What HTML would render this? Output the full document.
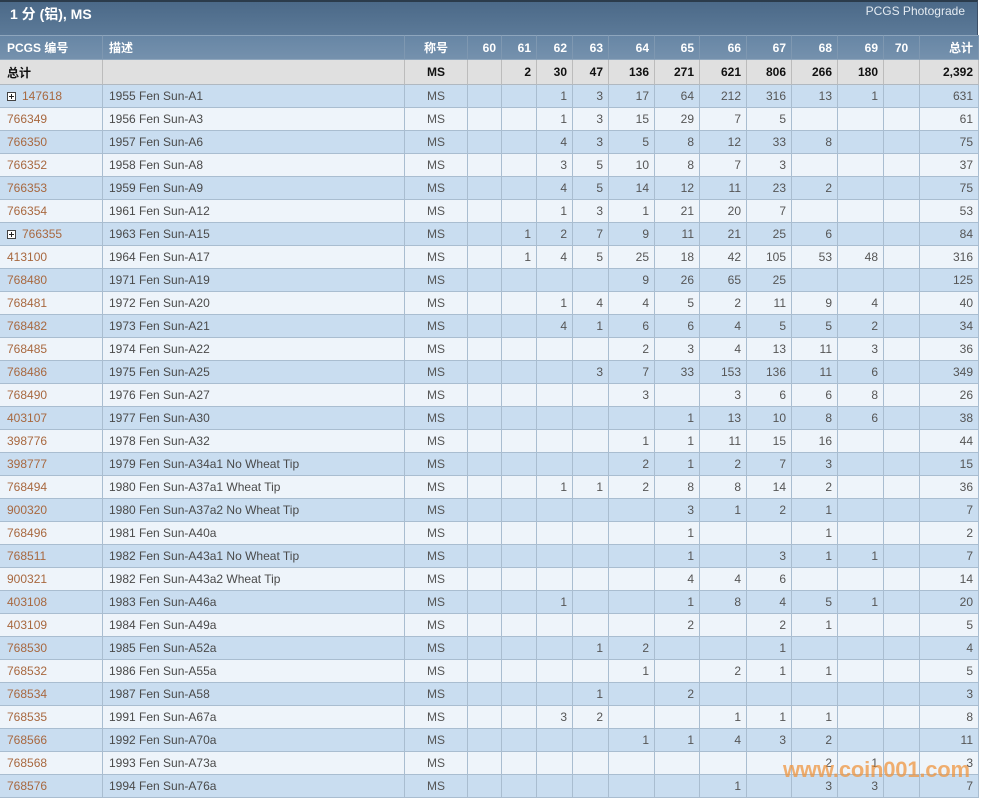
<!DOCTYPE html>
<html><head><meta charset="utf-8">
<style>
html,body{margin:0;padding:0;background:#fff;}
body{width:982px;height:798px;overflow:hidden;position:relative;font-family:"Liberation Sans","Noto Sans CJK SC",sans-serif;}
.title{position:absolute;left:0;top:0;width:978px;height:35px;background:linear-gradient(#4b6988,#5c7a98);border-top:2px solid #2b3b4b;box-sizing:border-box;border-right:1px solid #3c5068;}
.title .t{position:absolute;left:10px;top:2px;color:#fff;font-weight:bold;font-size:14px;}
.title .r{position:absolute;right:12px;top:2px;color:#e4ebf2;font-size:12px;}
table{position:absolute;left:0;top:35px;border-collapse:separate;border-spacing:0;table-layout:fixed;width:979px;font-size:12px;}
td{padding:0 5px 0 0;border-right:1px solid #a9bdd0;border-bottom:1px solid #a9bdd0;height:22px;text-align:right;color:#555;white-space:nowrap;overflow:hidden;box-sizing:border-box;}
tr.h td{background:linear-gradient(#6786a5,#7591ad);color:#fff;font-weight:bold;height:25px;border-right:1px solid #7f98b1;border-bottom:1px solid #8fa6bc;border-top:1px solid #8ea6bd;}
tr.tot td{background:#e0e0e0;color:#111;font-weight:bold;height:25px;border-right:1px solid #bcbcbc;border-bottom:1px solid #b0b8c0;}
tr.b td{background:#c9ddf0;height:23px;}
tr.l td{background:#eef4fa;height:23px;}
td.id{text-align:left;padding-left:7px;color:#a8683f;}
td.d{text-align:left;padding-left:6px;color:#4a4a4a;}
td.g{text-align:center;padding:0;}
tr.h td.id{color:#fff;}
tr.tot td.id{color:#111;}
.pl{display:inline-block;width:7px;height:7px;border:1px solid #444;background:#fff;position:relative;vertical-align:-1px;margin-right:6px;}
.pl:before{content:"";position:absolute;left:1px;top:3px;width:5px;height:1px;background:#222;}
.pl:after{content:"";position:absolute;left:3px;top:1px;width:1px;height:5px;background:#222;}
.wm{position:absolute;left:783px;top:757px;font-size:22px;font-weight:bold;color:rgba(240,145,55,0.72);letter-spacing:-0.2px;}
</style></head><body>
<div class="title"><div class="t">1 分 (铝), MS</div><div class="r">PCGS Photograde</div></div>
<table>
<colgroup><col style="width:103px"><col style="width:302px"><col style="width:63px"><col style="width:34px"><col style="width:35px"><col style="width:36px"><col style="width:36px"><col style="width:46px"><col style="width:45px"><col style="width:47px"><col style="width:45px"><col style="width:46px"><col style="width:46px"><col style="width:36px"><col style="width:59px"></colgroup>
<tr class="h"><td class="id">PCGS 编号</td><td class="d" style="color:#fff">描述</td><td class="g">称号</td><td>60</td><td>61</td><td>62</td><td>63</td><td>64</td><td>65</td><td>66</td><td>67</td><td>68</td><td>69</td><td class="g">70</td><td>总计</td></tr>
<tr class="tot"><td class="id">总计</td><td class="d"></td><td class="g">MS</td><td></td><td>2</td><td>30</td><td>47</td><td>136</td><td>271</td><td>621</td><td>806</td><td>266</td><td>180</td><td></td><td>2,392</td></tr>
<tr class="b"><td class="id"><span class="pl"></span>147618</td><td class="d">1955 Fen Sun-A1</td><td class="g">MS</td><td></td><td></td><td>1</td><td>3</td><td>17</td><td>64</td><td>212</td><td>316</td><td>13</td><td>1</td><td></td><td>631</td></tr>
<tr class="l"><td class="id">766349</td><td class="d">1956 Fen Sun-A3</td><td class="g">MS</td><td></td><td></td><td>1</td><td>3</td><td>15</td><td>29</td><td>7</td><td>5</td><td></td><td></td><td></td><td>61</td></tr>
<tr class="b"><td class="id">766350</td><td class="d">1957 Fen Sun-A6</td><td class="g">MS</td><td></td><td></td><td>4</td><td>3</td><td>5</td><td>8</td><td>12</td><td>33</td><td>8</td><td></td><td></td><td>75</td></tr>
<tr class="l"><td class="id">766352</td><td class="d">1958 Fen Sun-A8</td><td class="g">MS</td><td></td><td></td><td>3</td><td>5</td><td>10</td><td>8</td><td>7</td><td>3</td><td></td><td></td><td></td><td>37</td></tr>
<tr class="b"><td class="id">766353</td><td class="d">1959 Fen Sun-A9</td><td class="g">MS</td><td></td><td></td><td>4</td><td>5</td><td>14</td><td>12</td><td>11</td><td>23</td><td>2</td><td></td><td></td><td>75</td></tr>
<tr class="l"><td class="id">766354</td><td class="d">1961 Fen Sun-A12</td><td class="g">MS</td><td></td><td></td><td>1</td><td>3</td><td>1</td><td>21</td><td>20</td><td>7</td><td></td><td></td><td></td><td>53</td></tr>
<tr class="b"><td class="id"><span class="pl"></span>766355</td><td class="d">1963 Fen Sun-A15</td><td class="g">MS</td><td></td><td>1</td><td>2</td><td>7</td><td>9</td><td>11</td><td>21</td><td>25</td><td>6</td><td></td><td></td><td>84</td></tr>
<tr class="l"><td class="id">413100</td><td class="d">1964 Fen Sun-A17</td><td class="g">MS</td><td></td><td>1</td><td>4</td><td>5</td><td>25</td><td>18</td><td>42</td><td>105</td><td>53</td><td>48</td><td></td><td>316</td></tr>
<tr class="b"><td class="id">768480</td><td class="d">1971 Fen Sun-A19</td><td class="g">MS</td><td></td><td></td><td></td><td></td><td>9</td><td>26</td><td>65</td><td>25</td><td></td><td></td><td></td><td>125</td></tr>
<tr class="l"><td class="id">768481</td><td class="d">1972 Fen Sun-A20</td><td class="g">MS</td><td></td><td></td><td>1</td><td>4</td><td>4</td><td>5</td><td>2</td><td>11</td><td>9</td><td>4</td><td></td><td>40</td></tr>
<tr class="b"><td class="id">768482</td><td class="d">1973 Fen Sun-A21</td><td class="g">MS</td><td></td><td></td><td>4</td><td>1</td><td>6</td><td>6</td><td>4</td><td>5</td><td>5</td><td>2</td><td></td><td>34</td></tr>
<tr class="l"><td class="id">768485</td><td class="d">1974 Fen Sun-A22</td><td class="g">MS</td><td></td><td></td><td></td><td></td><td>2</td><td>3</td><td>4</td><td>13</td><td>11</td><td>3</td><td></td><td>36</td></tr>
<tr class="b"><td class="id">768486</td><td class="d">1975 Fen Sun-A25</td><td class="g">MS</td><td></td><td></td><td></td><td>3</td><td>7</td><td>33</td><td>153</td><td>136</td><td>11</td><td>6</td><td></td><td>349</td></tr>
<tr class="l"><td class="id">768490</td><td class="d">1976 Fen Sun-A27</td><td class="g">MS</td><td></td><td></td><td></td><td></td><td>3</td><td></td><td>3</td><td>6</td><td>6</td><td>8</td><td></td><td>26</td></tr>
<tr class="b"><td class="id">403107</td><td class="d">1977 Fen Sun-A30</td><td class="g">MS</td><td></td><td></td><td></td><td></td><td></td><td>1</td><td>13</td><td>10</td><td>8</td><td>6</td><td></td><td>38</td></tr>
<tr class="l"><td class="id">398776</td><td class="d">1978 Fen Sun-A32</td><td class="g">MS</td><td></td><td></td><td></td><td></td><td>1</td><td>1</td><td>11</td><td>15</td><td>16</td><td></td><td></td><td>44</td></tr>
<tr class="b"><td class="id">398777</td><td class="d">1979 Fen Sun-A34a1 No Wheat Tip</td><td class="g">MS</td><td></td><td></td><td></td><td></td><td>2</td><td>1</td><td>2</td><td>7</td><td>3</td><td></td><td></td><td>15</td></tr>
<tr class="l"><td class="id">768494</td><td class="d">1980 Fen Sun-A37a1 Wheat Tip</td><td class="g">MS</td><td></td><td></td><td>1</td><td>1</td><td>2</td><td>8</td><td>8</td><td>14</td><td>2</td><td></td><td></td><td>36</td></tr>
<tr class="b"><td class="id">900320</td><td class="d">1980 Fen Sun-A37a2 No Wheat Tip</td><td class="g">MS</td><td></td><td></td><td></td><td></td><td></td><td>3</td><td>1</td><td>2</td><td>1</td><td></td><td></td><td>7</td></tr>
<tr class="l"><td class="id">768496</td><td class="d">1981 Fen Sun-A40a</td><td class="g">MS</td><td></td><td></td><td></td><td></td><td></td><td>1</td><td></td><td></td><td>1</td><td></td><td></td><td>2</td></tr>
<tr class="b"><td class="id">768511</td><td class="d">1982 Fen Sun-A43a1 No Wheat Tip</td><td class="g">MS</td><td></td><td></td><td></td><td></td><td></td><td>1</td><td></td><td>3</td><td>1</td><td>1</td><td></td><td>7</td></tr>
<tr class="l"><td class="id">900321</td><td class="d">1982 Fen Sun-A43a2 Wheat Tip</td><td class="g">MS</td><td></td><td></td><td></td><td></td><td></td><td>4</td><td>4</td><td>6</td><td></td><td></td><td></td><td>14</td></tr>
<tr class="b"><td class="id">403108</td><td class="d">1983 Fen Sun-A46a</td><td class="g">MS</td><td></td><td></td><td>1</td><td></td><td></td><td>1</td><td>8</td><td>4</td><td>5</td><td>1</td><td></td><td>20</td></tr>
<tr class="l"><td class="id">403109</td><td class="d">1984 Fen Sun-A49a</td><td class="g">MS</td><td></td><td></td><td></td><td></td><td></td><td>2</td><td></td><td>2</td><td>1</td><td></td><td></td><td>5</td></tr>
<tr class="b"><td class="id">768530</td><td class="d">1985 Fen Sun-A52a</td><td class="g">MS</td><td></td><td></td><td></td><td>1</td><td>2</td><td></td><td></td><td>1</td><td></td><td></td><td></td><td>4</td></tr>
<tr class="l"><td class="id">768532</td><td class="d">1986 Fen Sun-A55a</td><td class="g">MS</td><td></td><td></td><td></td><td></td><td>1</td><td></td><td>2</td><td>1</td><td>1</td><td></td><td></td><td>5</td></tr>
<tr class="b"><td class="id">768534</td><td class="d">1987 Fen Sun-A58</td><td class="g">MS</td><td></td><td></td><td></td><td>1</td><td></td><td>2</td><td></td><td></td><td></td><td></td><td></td><td>3</td></tr>
<tr class="l"><td class="id">768535</td><td class="d">1991 Fen Sun-A67a</td><td class="g">MS</td><td></td><td></td><td>3</td><td>2</td><td></td><td></td><td>1</td><td>1</td><td>1</td><td></td><td></td><td>8</td></tr>
<tr class="b"><td class="id">768566</td><td class="d">1992 Fen Sun-A70a</td><td class="g">MS</td><td></td><td></td><td></td><td></td><td>1</td><td>1</td><td>4</td><td>3</td><td>2</td><td></td><td></td><td>11</td></tr>
<tr class="l"><td class="id">768568</td><td class="d">1993 Fen Sun-A73a</td><td class="g">MS</td><td></td><td></td><td></td><td></td><td></td><td></td><td></td><td></td><td>2</td><td>1</td><td></td><td>3</td></tr>
<tr class="b"><td class="id">768576</td><td class="d">1994 Fen Sun-A76a</td><td class="g">MS</td><td></td><td></td><td></td><td></td><td></td><td></td><td>1</td><td></td><td>3</td><td>3</td><td></td><td>7</td></tr>
</table>
<div class="wm">www.coin001.com</div>
</body></html>
